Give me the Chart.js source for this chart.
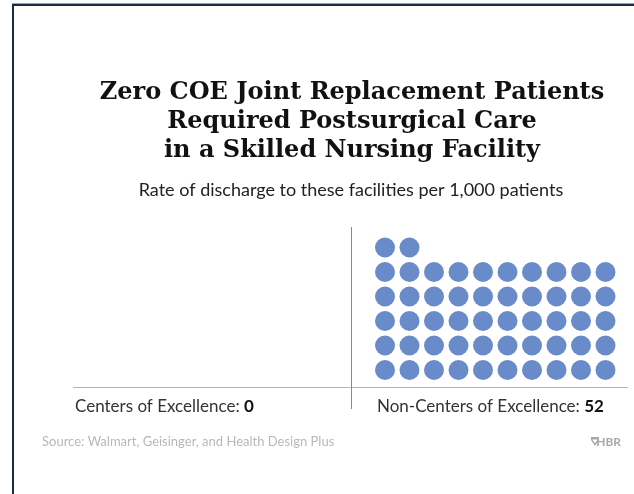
<!DOCTYPE html>
<html>
<head>
<meta charset="utf-8">
<style>
  html, body { margin: 0; padding: 0; background: #ffffff; }
  #wrap { position: relative; width: 634px; height: 494px; overflow: hidden; }
  canvas { display: block; }
</style>
<script src="https://cdn.jsdelivr.net/npm/chart.js@4/dist/chart.umd.min.js"></script>
</head>
<body>
<div id="wrap"><canvas id="c" width="634" height="494"></canvas></div>
<script>
// Data
const titleLines = [
  'Zero COE Joint Replacement Patients',
  'Required Postsurgical Care',
  'in a Skilled Nursing Facility'
];
const subtitle = 'Rate of discharge to these facilities per 1,000 patients';
const categories = ['Centers of Excellence', 'Non-Centers of Excellence'];
const values = [0, 52];
const dotsPerRow = 10;
const sourceText = 'Source: Walmart, Geisinger, and Health Design Plus';

// Layout (pixels)
const W = 634, H = 494;
const area = { left: 73, right: 628, top: 227, bottom: 387 };
const step = 24.5;            // distance between dot centres
const firstDotX = 385;        // first column of the right panel
const firstDotY = 370;        // bottom row
const panelGap = 302 / step;  // offset between the two panels, in dot units
const dotColor = '#6a8bc9';

// Waffle points: one point per unit, filled row by row from the bottom
const datasets = values.map((v, p) => {
  const pts = [];
  for (let i = 0; i < v; i++) {
    pts.push({ x: (p - 1) * panelGap + (i % dotsPerRow), y: Math.floor(i / dotsPerRow) });
  }
  return {
    label: categories[p],
    data: pts,
    pointRadius: 10,
    pointHoverRadius: 10,
    pointBackgroundColor: dotColor,
    pointBorderWidth: 0,
    showLine: false
  };
});

const xMin = -(firstDotX - area.left) / step;
const xMax = xMin + (area.right - area.left) / step;
const yMin = -(area.bottom - firstDotY) / step;
const yMax = yMin + (area.bottom - area.top) / step;

const serif = '"DejaVu Serif", "Liberation Serif", serif';
const sans = 'Lato, "Open Sans", "Noto Sans", sans-serif';

const decor = {
  id: 'decor',
  beforeDraw(chart) {
    const ctx = chart.ctx;
    ctx.save();
    ctx.fillStyle = '#ffffff';
    ctx.fillRect(0, 0, W, H);
    // frame
    ctx.fillStyle = '#1c2b42';
    ctx.fillRect(12, 4, W - 12, 2);
    ctx.fillRect(12, 4, 2, H - 4);
    ctx.fillStyle = '#9aa6b6';
    ctx.fillRect(12, 3, W - 12, 1);
    ctx.restore();
  },
  afterDatasetsDraw(chart) {
    const ctx = chart.ctx;
    const xs = chart.scales.x;
    const ca = chart.chartArea;
    ctx.save();
    // title
    ctx.fillStyle = '#111111';
    ctx.textAlign = 'center';
    ctx.textBaseline = 'alphabetic';
    ctx.font = 'bold 24px ' + serif;
    const tb = [99, 128, 157];
    titleLines.forEach((t, i) => ctx.fillText(t, 352, tb[i]));
    // subtitle
    ctx.font = '18px ' + sans;
    ctx.fillStyle = '#222222';
    ctx.fillText(subtitle, 351, 196);

    // baseline and divider
    const divX = Math.round(xs.getPixelForValue(-(firstDotX - 351) / step)) + 0.5;
    ctx.strokeStyle = '#b5b5b5';
    ctx.lineWidth = 1;
    ctx.beginPath();
    ctx.moveTo(ca.left, ca.bottom + 0.5);
    ctx.lineTo(ca.right, ca.bottom + 0.5);
    ctx.stroke();
    ctx.strokeStyle = '#8a8a8a';
    ctx.beginPath();
    ctx.moveTo(divX, ca.top);
    ctx.lineTo(divX, ca.bottom + 22);
    ctx.stroke();

    // category labels
    ctx.textAlign = 'left';
    const labelX = [75, 377];
    categories.forEach((c, i) => {
      ctx.font = '17px ' + sans;
      ctx.fillStyle = '#333333';
      const head = c + ': ';
      ctx.fillText(head, labelX[i], 412);
      const w = ctx.measureText(head).width;
      ctx.font = 'bold 17px ' + sans;
      ctx.fillStyle = '#111111';
      ctx.fillText(String(values[i]), labelX[i] + w, 412);
    });

    // source
    ctx.font = '13px ' + sans;
    ctx.fillStyle = '#b8b8b8';
    ctx.fillText(sourceText, 42, 446);

    // HBR mark
    ctx.fillStyle = '#a8a8a8';
    ctx.font = 'bold 12px ' + sans;
    ctx.textAlign = 'right';
    ctx.fillText('HBR', 621, 446);
    const sx = 591, sy = 437;
    ctx.beginPath();
    ctx.moveTo(sx, sy);
    ctx.lineTo(sx + 8, sy);
    ctx.lineTo(sx + 8, sy + 3);
    ctx.lineTo(sx + 4, sy + 9);
    ctx.lineTo(sx, sy + 3);
    ctx.closePath();
    ctx.fill();
    ctx.fillStyle = '#ffffff';
    ctx.beginPath();
    ctx.moveTo(sx + 1.5, sy + 2.5);
    ctx.lineTo(sx + 6.5, sy + 2.5);
    ctx.lineTo(sx + 4, sy + 6.5);
    ctx.closePath();
    ctx.fill();
    ctx.restore();
  }
};

new Chart(document.getElementById('c'), {
  type: 'scatter',
  data: { datasets },
  options: {
    responsive: false,
    animation: false,
    devicePixelRatio: 1,
    clip: false,
    layout: {
      autoPadding: false,
      padding: { left: area.left, right: W - area.right, top: area.top, bottom: H - area.bottom }
    },
    plugins: { legend: { display: false }, tooltip: { enabled: false }, title: { display: false } },
    scales: {
      x: { type: 'linear', display: false, min: xMin, max: xMax },
      y: { type: 'linear', display: false, min: yMin, max: yMax }
    }
  },
  plugins: [decor]
});
</script>
</body>
</html>
